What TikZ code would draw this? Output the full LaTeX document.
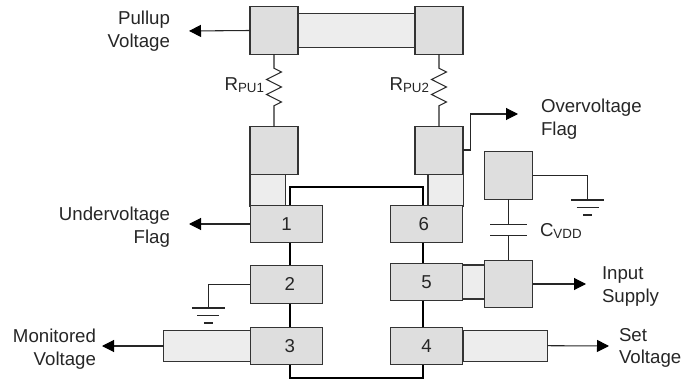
\documentclass[tikz,border=0pt]{standalone}
\usepackage{fontspec}
\setmainfont{Liberation Sans}
\usetikzlibrary{arrows.meta,decorations.pathmorphing}
\tikzset{
  every node/.style = {outer sep=0pt, inner sep=0pt},
  pad/.style = {shape=rectangle, draw=black!80, line width=.8pt, fill=black!13,
    minimum width=36pt, minimum height=35.6pt},
  pin/.style = {pad, minimum width=54.4pt, minimum height=28.3pt},
  trace/.style = {shape=rectangle, draw=black!80, line width=.8pt, fill=black!7},
  wire/.style = {draw=black!85, line width=.8pt},
  flow/.style = {wire, -{Triangle[length=9pt,width=9pt,color=black]}},
  resistor/.style = {wire, decorate, decoration={zigzag, amplitude=5.6pt,
    segment length=11.25pt, pre length=10.5pt, post length=10.5pt}},
  tag/.style = {font=\fontsize{14}{17}\selectfont, text=black!85},
  gnd/.pic = {
    \draw[wire] (-16.5,0) -- (16.5,0);
    \draw[wire] (-11,7.5) -- (11,7.5);
    \draw[wire] (-4.5,15) -- (4.5,15);
  }
}
\newcommand{\subtag}[2]{#1\raisebox{-.25ex}{\fontsize{10}{10}\selectfont #2}}
\begin{document}
\begin{tikzpicture}[x=0.75pt, y=-0.75pt]
  \useasboundingbox (0,0) rectangle (682,381);

  % device outline
  \node[shape=rectangle, draw=black, line width=1.5pt, minimum width=100.1pt,
    minimum height=143.3pt] (chip) at (356.25,282.5) {};

  % traces
  \node[trace, minimum width=87.8pt, minimum height=25.5pt] (toptrace) at (356.5,30.7) {};
  \node[trace, minimum width=26.3pt, minimum height=24pt] (lefttrace) at (267.5,190) {};
  \node[trace, minimum width=26.3pt, minimum height=24pt] (righttrace) at (445.5,190) {};
  \node[trace, minimum width=65pt, minimum height=23.7pt] (montrace) at (207,346) {};
  \node[trace, minimum width=63.5pt, minimum height=23.3pt] (settrace) at (505.3,345.7) {};
  \node[trace, minimum width=16pt, minimum height=25.5pt] (supplytrace) at (473.5,282) {};

  % pads
  \node[pad] (topleft) at (274,30.5) {};
  \node[pad] (topright) at (439,30.5) {};
  \node[pad] (lowleft) at (274,150.5) {};
  \node[pad] (lowright) at (439,150.5) {};
  \node[pad] (capup) at (508.5,175.5) {};
  \node[pad] (capdown) at (508.5,284) {};

  % pins
  \node[pin, tag] (pinA) at (286.5,224) {1};
  \node[pin, tag] (pinB) at (286.5,284.3) {\hspace*{5pt}2};
  \node[pin, tag] (pinC) at (286.5,346) {\hspace*{5pt}3};
  \node[pin, tag] (pinD) at (426.5,346) {4};
  \node[pin, tag] (pinE) at (426.5,282) {5};
  \node[pin, tag] (pinF) at (426.5,224) {6\hspace*{4pt}};

  % pullups
  \draw[resistor] (topleft.south) -- (lowleft.north);
  \draw[resistor] (topright.south) -- (lowright.north);
  \node[tag, anchor=east] (rpua) at (264,85) {\subtag{R}{PU1}};
  \node[tag, anchor=east] (rpub) at (429,85) {\subtag{R}{PU2}};

  % labels
  \node[tag, align=right, anchor=east] (pullup) at (170,31.5) {Pullup\\Voltage};
  \node[tag, align=right, anchor=east] (uvflag) at (170,227.5) {Undervoltage\\Flag};
  \node[tag, align=right, anchor=east] (monitor) at (96,349.5) {Monitored\\Voltage};
  \node[tag, align=left, anchor=west] (ovflag) at (541,119.5) {Overvoltage\\Flag};
  \node[tag, align=left, anchor=west] (supply) at (602,286.5) {Input\\Supply};
  \node[tag, align=left, anchor=west] (setv) at (619,348) {Set\\Voltage};
  \node[tag, anchor=west] (cvdd) at (540,231) {\subtag{C}{VDD}};

  % arrow ends
  \coordinate (pullupend) at (189,31);
  \coordinate (uvend) at (189,224);
  \coordinate (monend) at (102,346);
  \coordinate (ovend) at (518,114);
  \coordinate (supplyend) at (586,284);
  \coordinate (setend) at (609,346);

  \draw[flow] (topleft.west) -- (pullupend);
  \draw[flow] (pinA.west) -- (uvend);
  \draw[flow] (montrace.west) -- (monend);
  \draw[flow] (capdown.east) -- (supplyend);
  \draw[flow] (settrace.east) -- (setend);
  \coordinate (ovstart) at (463,150);
  \draw[flow] (ovstart) -| (470.5,114) -- (ovend);

  % capacitor
  \coordinate (plateup) at (508.5,224.3);
  \coordinate (platedown) at (508.5,235.7);
  \draw[wire] (capup.south) -- (plateup);
  \draw[wire] (platedown) -- (capdown.north);
  \draw[wire] (490,224.3) -- (527,224.3);
  \draw[wire] (490,235.7) -- (527,235.7);

  % grounds
  \coordinate (gndright) at (587.7,200);
  \coordinate (gndleft) at (208.3,308);
  \draw[wire] (capup.east) -| (gndright);
  \draw[wire] (pinB.west) -| (gndleft);
  \pic at (gndright) {gnd};
  \pic at (gndleft) {gnd};
\end{tikzpicture}
\end{document}
